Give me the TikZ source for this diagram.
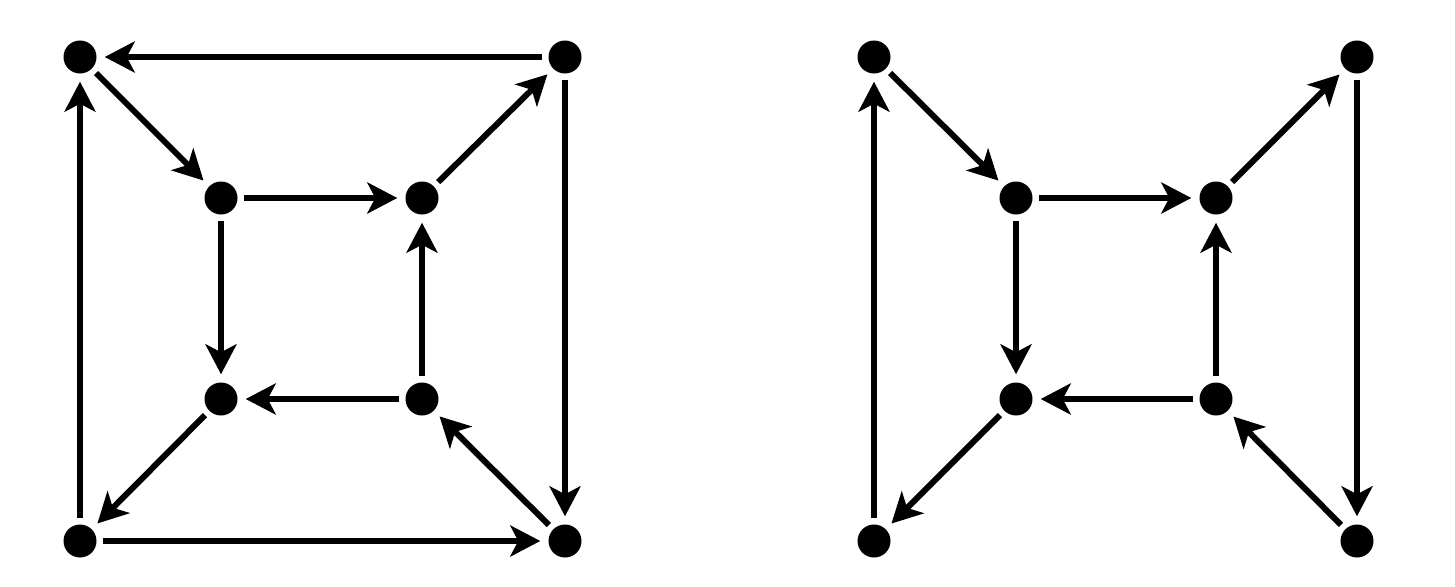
\documentclass[tikz,border=0pt]{standalone}
\usetikzlibrary{arrows.meta}
\begin{document}
\begin{tikzpicture}[x=1pt,y=-1pt,
  dot/.style={circle,fill=black,inner sep=0pt,minimum size=33pt},
  edge/.style={line width=6pt,-{Stealth[length=30pt,width=31pt,inset=8pt]},shorten >=8pt,shorten <=6pt}]
\useasboundingbox (0,0) rectangle (1455,586);
% left graph
\node[dot] (a1) at (80,57) {};
\node[dot] (a2) at (565,57) {};
\node[dot] (a3) at (80,541) {};
\node[dot] (a4) at (565,541) {};
\node[dot] (b1) at (221,198) {};
\node[dot] (b2) at (422,198) {};
\node[dot] (b3) at (221,399) {};
\node[dot] (b4) at (422,399) {};
\draw[edge] (a2) -- (a1);
\draw[edge] (a1) -- (b1);
\draw[edge] (b1) -- (b2);
\draw[edge] (b2) -- (a2);
\draw[edge] (a2) -- (a4);
\draw[edge] (a3) -- (a1);
\draw[edge] (b1) -- (b3);
\draw[edge] (b4) -- (b2);
\draw[edge] (b4) -- (b3);
\draw[edge] (b3) -- (a3);
\draw[edge] (a3) -- (a4);
\draw[edge] (a4) -- (b4);
% right graph
\node[dot] (c1) at (874,57) {};
\node[dot] (c2) at (1357,57) {};
\node[dot] (c3) at (874,541) {};
\node[dot] (c4) at (1357,541) {};
\node[dot] (d1) at (1016,198) {};
\node[dot] (d2) at (1216,198) {};
\node[dot] (d3) at (1016,399) {};
\node[dot] (d4) at (1216,399) {};
\draw[edge] (c1) -- (d1);
\draw[edge] (d1) -- (d2);
\draw[edge] (d2) -- (c2);
\draw[edge] (c2) -- (c4);
\draw[edge] (c3) -- (c1);
\draw[edge] (d1) -- (d3);
\draw[edge] (d4) -- (d2);
\draw[edge] (d4) -- (d3);
\draw[edge] (d3) -- (c3);
\draw[edge] (c4) -- (d4);
\end{tikzpicture}
\end{document}
